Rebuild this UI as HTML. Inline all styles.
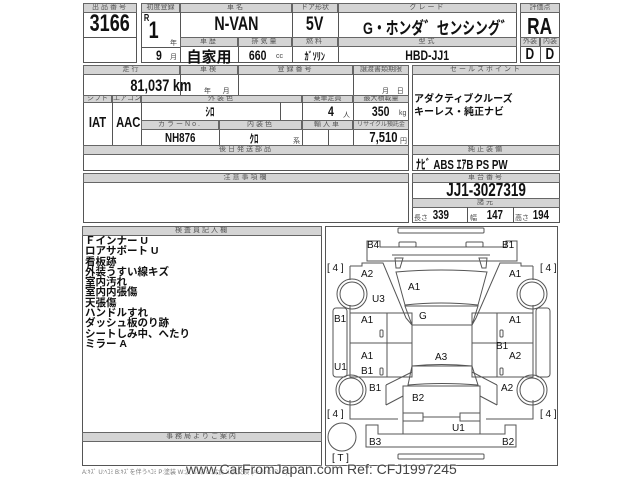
<!DOCTYPE html>
<html><head><meta charset="utf-8"><style>
*{margin:0;padding:0;box-sizing:border-box}
body{width:640px;height:480px;background:#fff;position:relative;overflow:hidden;font-family:"Liberation Sans","Noto Sans CJK JP",sans-serif;color:#111}
.b{position:absolute;border:1px solid #555}
.h{position:absolute;background:#d4d4d4;border:1px solid #666;font-size:7px;color:#555;text-align:center;letter-spacing:2px;line-height:8px;overflow:hidden;white-space:nowrap}
.v{position:absolute;font-family:"Liberation Sans","Noto Sans CJK JP",sans-serif;font-weight:bold;text-align:center;white-space:nowrap;color:#111}
.v span{display:inline-block;transform:scaleX(.75)}
.t{position:absolute;font-size:7px;color:#444;white-space:nowrap}
.n{position:absolute;font-size:11px;font-weight:bold;white-space:nowrap;font-family:"Liberation Sans","Noto Sans CJK JP",sans-serif}
.d span{position:absolute;white-space:nowrap}
</style></head><body>

<div class="b" style="left:83px;top:3px;width:54px;height:60px"></div>
<div class="h" style="left:83px;top:3px;width:54px;height:10px">出品番号</div>
<div class="b" style="left:83px;top:37px;width:54px;height:1px;border-width:1px 0 0 0"></div>
<div class="v" style="left:83px;top:11px;width:54px;font-size:24px;line-height:26px"><span>3166</span></div>

<div class="b" style="left:141px;top:3px;width:376px;height:60px"></div>
<div class="h" style="left:141px;top:3px;width:39px;height:10px;letter-spacing:0">初度登録</div>
<div class="h" style="left:180px;top:3px;width:112px;height:10px">車名</div>
<div class="h" style="left:292px;top:3px;width:46px;height:10px;letter-spacing:0">ドア形状</div>
<div class="h" style="left:338px;top:3px;width:179px;height:10px">グレード</div>
<div class="b" style="left:180px;top:12px;width:1px;height:51px;border-width:0 0 0 1px"></div>
<div class="b" style="left:292px;top:12px;width:1px;height:51px;border-width:0 0 0 1px"></div>
<div class="b" style="left:338px;top:12px;width:1px;height:51px;border-width:0 0 0 1px"></div>
<div class="b" style="left:141px;top:47px;width:39px;height:1px;border-width:1px 0 0 0"></div>
<div class="h" style="left:180px;top:37px;width:58px;height:10px">車歴</div>
<div class="h" style="left:238px;top:37px;width:54px;height:10px">排気量</div>
<div class="h" style="left:292px;top:37px;width:46px;height:10px">燃料</div>
<div class="h" style="left:338px;top:37px;width:179px;height:10px">型式</div>
<div class="b" style="left:238px;top:47px;width:1px;height:16px;border-width:0 0 0 1px"></div>
<div class="v" style="left:143px;top:13px;font-size:10px"><span>R</span></div>
<div class="v" style="left:147px;top:17px;font-size:24px"><span>1</span></div>
<div class="t" style="left:170px;top:38px">年</div>
<div class="v" style="left:155px;top:47px;font-size:14px"><span>9</span></div>
<div class="t" style="left:170px;top:52px">月</div>
<div class="v" style="left:180px;top:14px;width:112px;font-size:19px"><span>N-VAN</span></div>
<div class="v" style="left:292px;top:14px;width:46px;font-size:19px"><span>5V</span></div>
<div class="v" style="left:338px;top:14px;width:179px;font-size:17px"><span>G・ホンダ゛センシング゛</span></div>
<div class="v" style="left:180px;top:46px;width:58px;font-size:15px">自家用</div>
<div class="v" style="left:246px;top:47px;font-size:14px"><span>660</span></div>
<div class="t" style="left:276px;top:53px">cc</div>
<div class="v" style="left:292px;top:48px;width:46px;font-size:11px"><span>ｶﾞｿﾘﾝ</span></div>
<div class="v" style="left:338px;top:47px;width:179px;font-size:14px"><span>HBD-JJ1</span></div>

<div class="b" style="left:520px;top:3px;width:40px;height:60px"></div>
<div class="h" style="left:520px;top:3px;width:40px;height:10px;letter-spacing:0">評価点</div>
<div class="v" style="left:520px;top:13px;width:40px;font-size:23px"><span>RA</span></div>
<div class="h" style="left:520px;top:37px;width:20px;height:10px;letter-spacing:0">外装</div>
<div class="h" style="left:540px;top:37px;width:20px;height:10px;letter-spacing:0">内装</div>
<div class="b" style="left:540px;top:47px;width:1px;height:16px;border-width:0 0 0 1px"></div>
<div class="v" style="left:520px;top:46px;width:20px;font-size:16px"><span>D</span></div>
<div class="v" style="left:540px;top:46px;width:20px;font-size:16px"><span>D</span></div>

<div class="b" style="left:83px;top:65px;width:326px;height:106px"></div>
<div class="h" style="left:83px;top:65px;width:97px;height:10px">走行</div>
<div class="h" style="left:180px;top:65px;width:58px;height:10px">車検</div>
<div class="h" style="left:238px;top:65px;width:115px;height:10px">登録番号</div>
<div class="h" style="left:353px;top:65px;width:56px;height:10px;letter-spacing:0">譲渡書類期限</div>
<div class="b" style="left:180px;top:74px;width:1px;height:21px;border-width:0 0 0 1px"></div>
<div class="b" style="left:238px;top:74px;width:1px;height:21px;border-width:0 0 0 1px"></div>
<div class="b" style="left:353px;top:74px;width:1px;height:71px;border-width:0 0 0 1px"></div>
<div class="v" style="left:110px;top:76px;width:70px;font-size:17px;text-align:right"><span style="transform-origin:right">81,037 km</span></div>
<div class="t" style="left:204px;top:86px">年 &nbsp; &nbsp; &nbsp;月</div>
<div class="t" style="left:382px;top:86px">月 &nbsp; &nbsp;日</div>
<div class="h" style="left:83px;top:95px;width:29px;height:8px;letter-spacing:0;line-height:6px">シフト</div>
<div class="h" style="left:112px;top:95px;width:29px;height:8px;letter-spacing:0;line-height:6px">エアコン</div>
<div class="h" style="left:141px;top:95px;width:161px;height:8px;line-height:6px">外装色</div>
<div class="h" style="left:302px;top:95px;width:51px;height:8px;letter-spacing:0;line-height:6px">乗車定員</div>
<div class="h" style="left:353px;top:95px;width:56px;height:8px;letter-spacing:0;line-height:6px">最大積載量</div>
<div class="b" style="left:112px;top:102px;width:1px;height:43px;border-width:0 0 0 1px"></div>
<div class="b" style="left:141px;top:102px;width:1px;height:43px;border-width:0 0 0 1px"></div>
<div class="b" style="left:280px;top:102px;width:1px;height:18px;border-width:0 0 0 1px"></div>
<div class="b" style="left:302px;top:102px;width:1px;height:43px;border-width:0 0 0 1px"></div>
<div class="v" style="left:83px;top:114px;width:29px;font-size:15px"><span>IAT</span></div>
<div class="v" style="left:112px;top:114px;width:29px;font-size:15px"><span>AAC</span></div>
<div class="v" style="left:141px;top:103px;width:139px;font-size:12px"><span>ｼﾛ</span></div>
<div class="v" style="left:327px;top:103px;font-size:14px"><span>4</span></div>
<div class="t" style="left:343px;top:110px">人</div>
<div class="v" style="left:369px;top:103px;font-size:14px"><span>350</span></div>
<div class="t" style="left:399px;top:110px">kg</div>
<div class="h" style="left:141px;top:120px;width:78px;height:10px">カラーNo.</div>
<div class="h" style="left:219px;top:120px;width:83px;height:10px">内装色</div>
<div class="h" style="left:302px;top:120px;width:51px;height:10px">輸入車</div>
<div class="h" style="left:353px;top:120px;width:56px;height:10px;letter-spacing:0;font-size:6px">リサイクル預託金</div>
<div class="b" style="left:219px;top:130px;width:1px;height:15px;border-width:0 0 0 1px"></div>
<div class="b" style="left:328px;top:130px;width:1px;height:15px;border-width:0 0 0 1px"></div>
<div class="v" style="left:141px;top:130px;width:78px;font-size:13px"><span>NH876</span></div>
<div class="v" style="left:219px;top:130px;width:70px;font-size:12px"><span>ｸﾛ</span></div>
<div class="t" style="left:293px;top:136px">系</div>
<div class="v" style="left:358px;top:129px;width:40px;font-size:15px;text-align:right"><span style="transform-origin:right">7,510</span></div>
<div class="t" style="left:400px;top:136px">円</div>
<div class="h" style="left:83px;top:145px;width:326px;height:10px">後日発送部品</div>

<div class="b" style="left:83px;top:173px;width:326px;height:50px"></div>
<div class="h" style="left:83px;top:173px;width:326px;height:10px">注意事項欄</div>

<div class="b" style="left:412px;top:65px;width:148px;height:106px"></div>
<div class="h" style="left:412px;top:65px;width:148px;height:10px">セールスポイント</div>
<div class="n" style="left:414px;top:90px;font-size:10px">アダクティブクルーズ</div>
<div class="n" style="left:414px;top:103px;font-size:10px">キーレス・純正ナビ</div>
<div class="h" style="left:412px;top:145px;width:148px;height:10px">純正装備</div>
<div class="v" style="left:416px;top:154px;width:120px;font-size:13px;text-align:left"><span style="transform-origin:left">ﾅﾋﾞ ABS ｴｱB PS PW</span></div>

<div class="b" style="left:412px;top:173px;width:148px;height:50px"></div>
<div class="h" style="left:412px;top:173px;width:148px;height:10px">車台番号</div>
<div class="v" style="left:412px;top:180px;width:148px;font-size:18px"><span>JJ1-3027319</span></div>
<div class="h" style="left:412px;top:198px;width:148px;height:10px">諸元</div>
<div class="b" style="left:467px;top:207px;width:1px;height:16px;border-width:0 0 0 1px"></div>
<div class="b" style="left:513px;top:207px;width:1px;height:16px;border-width:0 0 0 1px"></div>
<div class="t" style="left:414px;top:213px">長さ</div><div class="v" style="left:430px;top:207px;font-size:13px"><span>339</span></div>
<div class="t" style="left:470px;top:213px">幅</div><div class="v" style="left:484px;top:207px;font-size:13px"><span>147</span></div>
<div class="t" style="left:515px;top:213px">高さ</div><div class="v" style="left:530px;top:207px;font-size:13px"><span>194</span></div>

<div class="b" style="left:82px;top:226px;width:240px;height:240px"></div>
<div class="h" style="left:82px;top:226px;width:240px;height:10px">検査員記入欄</div>
<div class="n" style="left:85px;top:236px;line-height:10.3px;font-size:10.5px">Ｆインナー U<br>ロアサポート U<br>看板跡<br>外装うすい線キズ<br>室内汚れ<br>室内内張傷<br>天張傷<br>ハンドルすれ<br>ダッシュ板のり跡<br>シートしみ中、へたり<br>ミラー A</div>
<div class="h" style="left:82px;top:432px;width:240px;height:10px">事務局よりご案内</div>
<div class="t" style="left:82px;top:467px;font-size:6px;color:#777">A:ｷｽﾞ U:ﾍｺﾐ B:ｷｽﾞを伴うﾍｺﾐ P:塗装 W:波 S:錆 C:腐食 X:要交換 (A･B･C･D･E) 2</div>

<div class="b" style="left:325px;top:226px;width:233px;height:240px"></div>
<svg style="position:absolute;left:0;top:0" width="640" height="480" fill="none" stroke="#555" stroke-width="1">
<rect x="398" y="228" width="86" height="5" rx="1"/>
<rect x="398" y="454" width="86" height="5" rx="1"/>
<path d="M367 241 H380 V247 H506 V241 H517 V261 H367 Z"/>
<rect x="399" y="242" width="17" height="5" rx="1"/><rect x="466" y="242" width="17" height="5" rx="1"/>
<path d="M392 255 L490 255 M395 258 L403 258 L400 268 L396 268 Z M487 258 L479 258 L482 268 L486 268 Z"/>
<path d="M350 266 H362 V263 H383 L406 318 L412 325 M533 266 H521 V263 H500 L476 318 L472 325"/>
<path d="M350 266 V280 M533 266 V280 M350 305 V313 M533 305 V313"/>
<path d="M396 272 Q441 268 487 272 L478 305 Q441 301 405 305 Z"/>
<path d="M405 306 L478 306 L472 325 L412 325 Z"/>
<rect x="412" y="325" width="60" height="41"/>
<path d="M412 366 Q441 363 472 366 L478 385 Q441 382 408 385 Z"/>
<rect x="403" y="386" width="77" height="48"/>
<rect x="403" y="413" width="20" height="8"/><rect x="460" y="413" width="20" height="8"/>
<path d="M423 417 H460"/>
<rect x="350" y="313" width="62" height="64"/><path d="M350 343 H412 M387 313 V377"/>
<rect x="472" y="313" width="61" height="64"/><path d="M472 343 H533 M497 313 V377"/>
<rect x="333" y="308" width="14" height="69" rx="3"/>
<rect x="536" y="308" width="14" height="69" rx="3"/>
<path d="M386 385 L412 372 M386 405 L403 396 M386 385 V405 M497 385 L472 372 M497 405 L480 396 M497 385 V405"/>
<path d="M350 400 V419 H398 M533 400 V419 H486"/>
<path d="M366 425 H378 V434 H505 V425 H516 V447 H366 Z"/>
<rect x="380" y="330" width="3" height="7" rx="1"/><rect x="380" y="368" width="3" height="7" rx="1"/>
<rect x="500" y="330" width="3" height="7" rx="1"/><rect x="500" y="368" width="3" height="7" rx="1"/>
<circle cx="352" cy="294" r="15"/><circle cx="352" cy="294" r="12"/>
<circle cx="532" cy="294" r="15"/><circle cx="532" cy="294" r="12"/>
<circle cx="351" cy="390" r="15"/><circle cx="351" cy="390" r="12"/>
<circle cx="532" cy="390" r="15"/><circle cx="532" cy="390" r="12"/>
<circle cx="342" cy="437" r="14"/>
</svg>
<div class="d" style="position:absolute;left:0;top:0;font-size:10px;font-family:'Liberation Sans',sans-serif">
<span style="left:367px;top:240px">B4</span>
<span style="left:502px;top:240px">B1</span>
<span style="left:327px;top:263px">[ 4 ]</span>
<span style="left:540px;top:263px">[ 4 ]</span>
<span style="left:361px;top:269px">A2</span>
<span style="left:509px;top:269px">A1</span>
<span style="left:408px;top:282px">A1</span>
<span style="left:372px;top:294px">U3</span>
<span style="left:419px;top:311px">G</span>
<span style="left:334px;top:314px">B1</span>
<span style="left:361px;top:315px">A1</span>
<span style="left:509px;top:315px">A1</span>
<span style="left:496px;top:341px">B1</span>
<span style="left:361px;top:351px">A1</span>
<span style="left:435px;top:352px">A3</span>
<span style="left:509px;top:351px">A2</span>
<span style="left:334px;top:362px">U1</span>
<span style="left:361px;top:366px">B1</span>
<span style="left:369px;top:383px">B1</span>
<span style="left:501px;top:383px">A2</span>
<span style="left:412px;top:393px">B2</span>
<span style="left:327px;top:409px">[ 4 ]</span>
<span style="left:540px;top:409px">[ 4 ]</span>
<span style="left:452px;top:423px">U1</span>
<span style="left:369px;top:437px">B3</span>
<span style="left:502px;top:437px">B2</span>
<span style="left:332px;top:453px">[ T ]</span>
</div>
<div style="position:absolute;left:186px;top:461px;font-size:14px;color:#444;font-family:'Liberation Sans',sans-serif;white-space:nowrap;text-shadow:0 0 2px #fff,0 0 2px #fff">www.CarFromJapan.com Ref: CFJ1997245</div>
</body></html>
